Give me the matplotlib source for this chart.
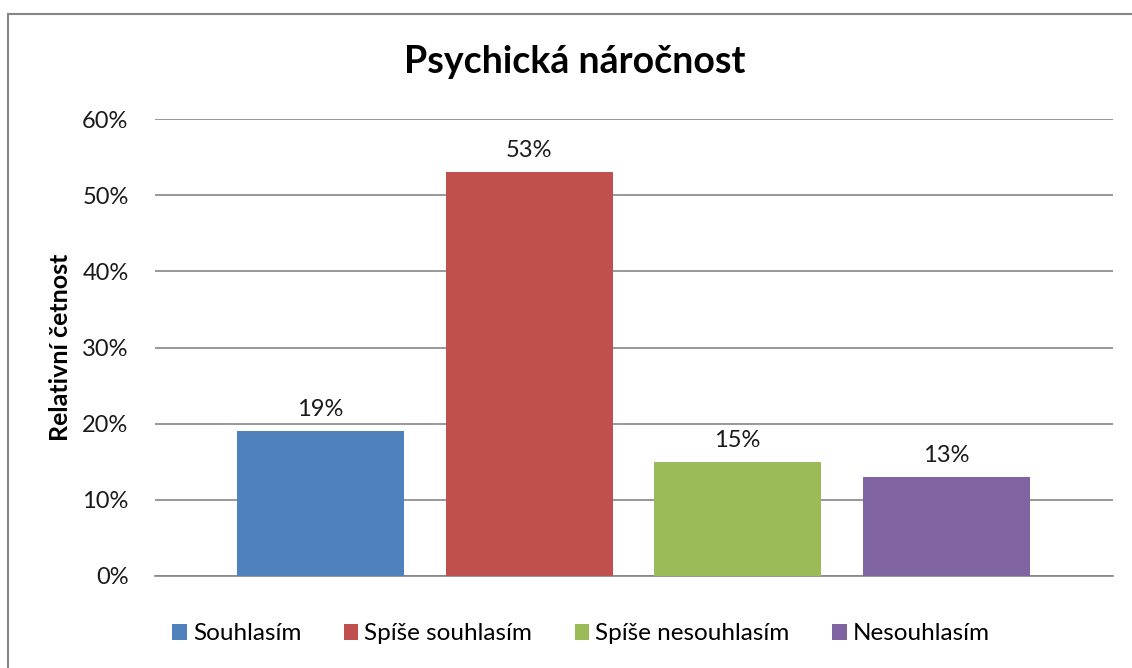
import matplotlib
matplotlib.use("Agg")
import matplotlib.pyplot as plt
from matplotlib.patches import Rectangle
from matplotlib.ticker import FuncFormatter

plt.rcParams["font.family"] = ["Lato", "DejaVu Sans"]

# survey answers (one bar per answer)
answers = ["Souhlasím", "Spíše souhlasím", "Spíše nesouhlasím", "Nesouhlasím"]
shares = [0.19, 0.53, 0.15, 0.13]
bar_colors = ["#4F81BD", "#C0504D", "#9BBB59", "#8064A2"]
y_ticks = [0.0, 0.1, 0.2, 0.3, 0.4, 0.5, 0.6]

fig = plt.figure(figsize=(11.32, 6.68), dpi=100)
fig.patch.set_facecolor("white")

# chart frame (left/top edges visible, right/bottom clipped)
fig.patches.append(
    Rectangle((8 / 1132, -0.05), 1.2, 1 - 14 / 668 + 0.05,
              transform=fig.transFigure, fill=False,
              edgecolor="#868686", linewidth=1.5)
)

ax = fig.add_axes([155 / 1132, 1 - 576 / 668, (1113 - 155) / 1132, (576 - 119) / 668])

x_pos = list(range(len(answers)))
bars = ax.bar(x_pos, shares, width=0.8, color=bar_colors, label=answers, zorder=3)

for rect, share in zip(bars, shares):
    ax.annotate(f"{share:.0%}", (rect.get_x() + rect.get_width() / 2, share),
                xytext=(0, 8), textcoords="offset points",
                ha="center", va="bottom", fontsize=17, color="#1a1a1a")

ax.set_xlim(-0.794, 3.80)
ax.set_ylim(0, 0.6)
ax.set_yticks(y_ticks)
ax.yaxis.set_major_formatter(FuncFormatter(lambda v, _: f"{v:.0%}"))
ax.set_xticks([])
ax.tick_params(axis="y", length=0, pad=19, labelsize=17, labelcolor="#1a1a1a")
ax.grid(axis="y", color="#868686", linewidth=1.2, zorder=0)
ax.set_axisbelow(True)
for name in ("top", "right", "left"):
    ax.spines[name].set_visible(False)
ax.spines["bottom"].set_color("#868686")
ax.spines["bottom"].set_linewidth(1.2)

fig.text(60 / 1132, 1 - 347 / 668, "Relativní četnost", rotation=90,
         ha="center", va="center", fontsize=18, fontweight="bold")
fig.text(575 / 1132, 1 - 62 / 668, "Psychická náročnost",
         ha="center", va="center", fontsize=27, fontweight="bold")

fig.legend(handles=bars, labels=answers, loc="center",
           bbox_to_anchor=(581 / 1132, 1 - 634 / 668), ncol=4, frameon=False,
           fontsize=17.5, handlelength=0.6, handleheight=0.6, handletextpad=0.25,
           columnspacing=1.75)

fig.savefig("out.png", dpi=100)
